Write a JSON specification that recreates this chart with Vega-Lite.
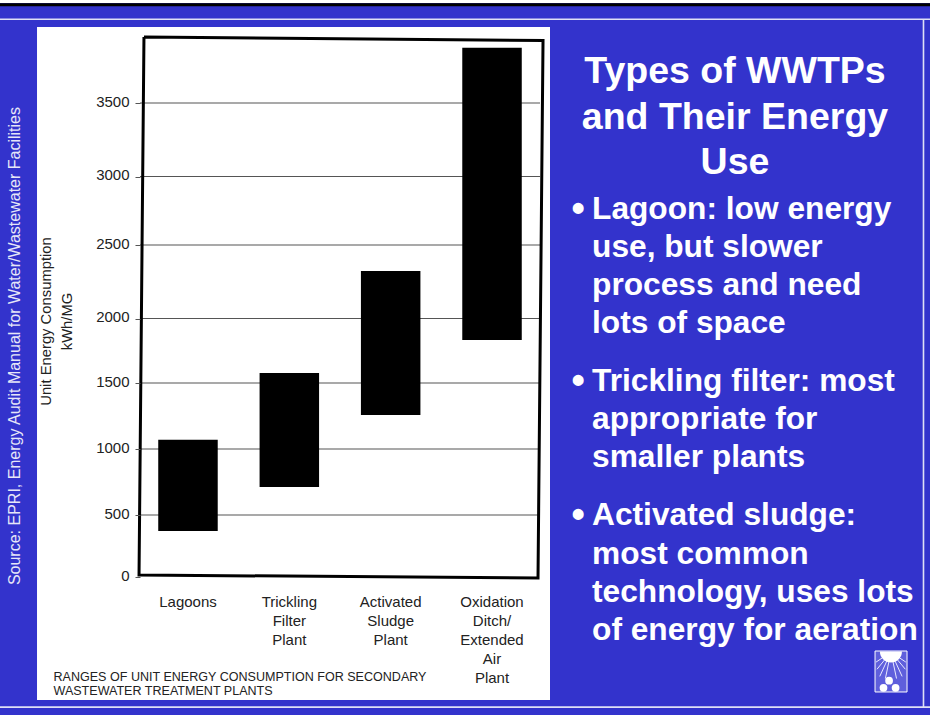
{
"$schema":"https://vega.github.io/schema/vega-lite/v6.json",
"autosize":{"type":"none"},
"padding":{"left":140,"top":38,"right":390,"bottom":138},
"width":400,"height":539,
"background":"#3333cc",
"config":{"view":{"stroke":null},"font":"Liberation Sans"},
"datasets":{
"plants":[
{"plant":"Lagoons","low":370,"high":1070},
{"plant":"Trickling Filter Plant","low":712,"high":1578},
{"plant":"Activated Sludge Plant","low":1258,"high":2323},
{"plant":"Oxidation Ditch/ Extended Air Plant","low":1833,"high":3874}],
"ticks":[{"v":500},{"v":1000},{"v":1500},{"v":2000},{"v":2500},{"v":3000},{"v":3500}],
"panel":[{"x":3.98,"x2":59.14,"y":3.78,"y2":97.9}],
"topband":[{"x":0,"x2":100,"y":0,"y2":0.42}],
"blackline":[{"x":0,"x2":100,"y":0.65,"y2":0.65}],
"borders":[
{"x":0,"x2":100,"y":2.7,"y2":2.7},
{"x":0,"x2":100,"y":98.9,"y2":98.9},
{"x":99.3,"x2":99.3,"y":2.7,"y2":98.9}],
"frame":[
{"o":1,"x":15.48,"y":5.17},{"o":2,"x":58.39,"y":5.66},{"o":3,"x":57.85,"y":80.84},{"o":4,"x":14.95,"y":80.42},{"o":5,"x":15.48,"y":5.17}],
"source":[{"x":1.6,"y":48.4,"text":"Source: EPRI, Energy Audit Manual for Water/Wastewater Facilities"}],
"heading":[
{"x":79.03,"y":11.61,"text":"Types of WWTPs"},
{"x":79.03,"y":18.04,"text":"and Their Energy"},
{"x":79.03,"y":24.3,"text":"Use"}],
"bullets":[
{"x":61.44,"y":30.91,"text":"•"},{"x":61.44,"y":54.97,"text":"•"},{"x":61.44,"y":73.71,"text":"•"}],
"body":[
{"x":63.66,"y":30.63,"text":"Lagoon: low energy"},
{"x":63.66,"y":35.94,"text":"use, but slower"},
{"x":63.66,"y":41.26,"text":"process and need"},
{"x":63.66,"y":46.57,"text":"lots of space"},
{"x":63.66,"y":54.69,"text":"Trickling filter: most"},
{"x":63.66,"y":60,"text":"appropriate for"},
{"x":63.66,"y":65.31,"text":"smaller plants"},
{"x":63.66,"y":73.43,"text":"Activated sludge:"},
{"x":63.66,"y":78.88,"text":"most common"},
{"x":63.66,"y":84.2,"text":"technology, uses lots"},
{"x":63.66,"y":89.51,"text":"of energy for aeration"}],
"logo":[{"x":94.09,"x2":97.53,"y":91.05,"y2":96.78}],
"rays":[
{"x":95.8,"y":91.2,"x2":94.2,"y2":92.6},
{"x":95.8,"y":91.2,"x2":94.3,"y2":93.6},
{"x":95.8,"y":91.2,"x2":94.6,"y2":94.6},
{"x":95.8,"y":91.2,"x2":95.2,"y2":94.9},
{"x":95.8,"y":91.2,"x2":96.4,"y2":94.9},
{"x":95.8,"y":91.2,"x2":97.0,"y2":94.6},
{"x":95.8,"y":91.2,"x2":97.35,"y2":93.6},
{"x":95.8,"y":91.2,"x2":97.4,"y2":92.6}],
"sun":[{"x":95.8,"y":91.12}],
"figure":[{"x":95.6,"y":95.2},{"x":95.0,"y":96.2},{"x":96.3,"y":96.2}]
},
"resolve":{"scale":{"x":"independent","y":"independent"},"axis":{"x":"independent","y":"independent"}},
"layer":[
{"data":{"name":"panel"},"mark":{"type":"rect","color":"#ffffff"},
"encoding":{
"x":{"field":"x","type":"quantitative","axis":null,"scale":{"domain":[0,100],"range":[-140,790],"nice":false,"zero":false}},
"x2":{"field":"x2"},
"y":{"field":"y","type":"quantitative","axis":null,"scale":{"domain":[0,100],"range":[-38,677],"nice":false,"zero":false}},
"y2":{"field":"y2"}}},
{"layer":[
{"data":{"name":"ticks"},"mark":{"type":"rule","color":"#555555","strokeWidth":1.1},
"encoding":{"y":{"field":"v","type":"quantitative"}}},
{"data":{"name":"plants"},"mark":{"type":"bar","color":"#000000"},
"encoding":{
"x":{"field":"plant","type":"nominal","sort":null,
"scale":{"paddingInner":0.413,"paddingOuter":0.18},
"axis":{"labelExpr":"split(datum.label,' ')","labelAngle":0,"labelFontSize":15,"labelColor":"#222222","labelLineHeight":19,"labelPadding":17,"labelLimit":0,"ticks":false,"domain":false,"zindex":1,
"title":["RANGES OF UNIT ENERGY CONSUMPTION FOR SECONDARY","WASTEWATER TREATMENT PLANTS"],"titleFontSize":12.55,"titleFontWeight":"normal","titleColor":"#222222","titleAlign":"left","titleAnchor":"start","titleX":-87,"titleY":103,"titleLineHeight":14,"titleBaseline":"alphabetic"}},
"y":{"field":"low","type":"quantitative",
"scale":{"domain":[0,500,1000,1500,2000,2500,3000,3500,3940],"range":[539,477,411,345,280.5,207,138.5,65,0],"nice":false,"zero":false},
"axis":{"values":[0,500,1000,1500,2000,2500,3000,3500],"format":"d","grid":false,"domain":false,"tickSize":5,"tickColor":"#555555","labelFontSize":15,"labelColor":"#222222","labelPadding":6,"labelOffset":-2,"zindex":1,
"title":["Unit Energy Consumption","kWh/MG"],"titleFontSize":14.8,"titleFontWeight":"normal","titleColor":"#222222","titleX":-87,"titleY":283,"titleAngle":270,"titleAlign":"center","titleLineHeight":21}},
"y2":{"field":"high"}}}
]},
{"encoding":{
"x":{"field":"x","type":"quantitative","axis":null,"scale":{"domain":[0,100],"range":[-140,790],"nice":false,"zero":false}},
"y":{"field":"y","type":"quantitative","axis":null,"scale":{"domain":[0,100],"range":[-38,677],"nice":false,"zero":false}}},
"layer":[
{"data":{"name":"topband"},"mark":{"type":"rect","color":"#ffffff"},"encoding":{"x2":{"field":"x2"},"y2":{"field":"y2"}}},
{"data":{"name":"blackline"},"mark":{"type":"rule","color":"#000000","strokeWidth":3},"encoding":{"x2":{"field":"x2"},"y2":{"field":"y2"}}},
{"data":{"name":"borders"},"mark":{"type":"rule","color":"#dfe0f6","strokeWidth":1.6},"encoding":{"x2":{"field":"x2"},"y2":{"field":"y2"}}},
{"data":{"name":"frame"},"mark":{"type":"line","color":"#000000","strokeWidth":3,"strokeJoin":"miter"},"encoding":{"order":{"field":"o","type":"quantitative"}}},
{"data":{"name":"source"},"mark":{"type":"text","color":"#e6e6f8","fontSize":16,"angle":270,"align":"center","baseline":"middle"},"encoding":{"text":{"field":"text"}}},
{"data":{"name":"heading"},"mark":{"type":"text","color":"#ffffff","fontSize":37.5,"fontWeight":"bold","align":"center","baseline":"alphabetic"},"encoding":{"text":{"field":"text"}}},
{"data":{"name":"bullets"},"mark":{"type":"text","color":"#ffffff","fontSize":38,"fontWeight":"bold","align":"left","baseline":"alphabetic"},"encoding":{"text":{"field":"text"}}},
{"data":{"name":"body"},"mark":{"type":"text","color":"#ffffff","fontSize":31.7,"fontWeight":"bold","align":"left","baseline":"alphabetic"},"encoding":{"text":{"field":"text"}}},
{"data":{"name":"logo"},"mark":{"type":"rect","color":"#5f5fdc","stroke":"#ffffff","strokeWidth":1},"encoding":{"x2":{"field":"x2"},"y2":{"field":"y2"}}},
{"data":{"name":"rays"},"mark":{"type":"rule","color":"#e8e8ff","strokeWidth":1},"encoding":{"x2":{"field":"x2"},"y2":{"field":"y2"}}},
{"data":{"name":"sun"},"mark":{"type":"arc","color":"#ffffff","radius":11,"theta":1.5708,"theta2":4.7124},"encoding":{}},
{"data":{"name":"figure"},"mark":{"type":"point","filled":true,"color":"#ffffff","opacity":1,"size":60},"encoding":{}}
]}
]
}
